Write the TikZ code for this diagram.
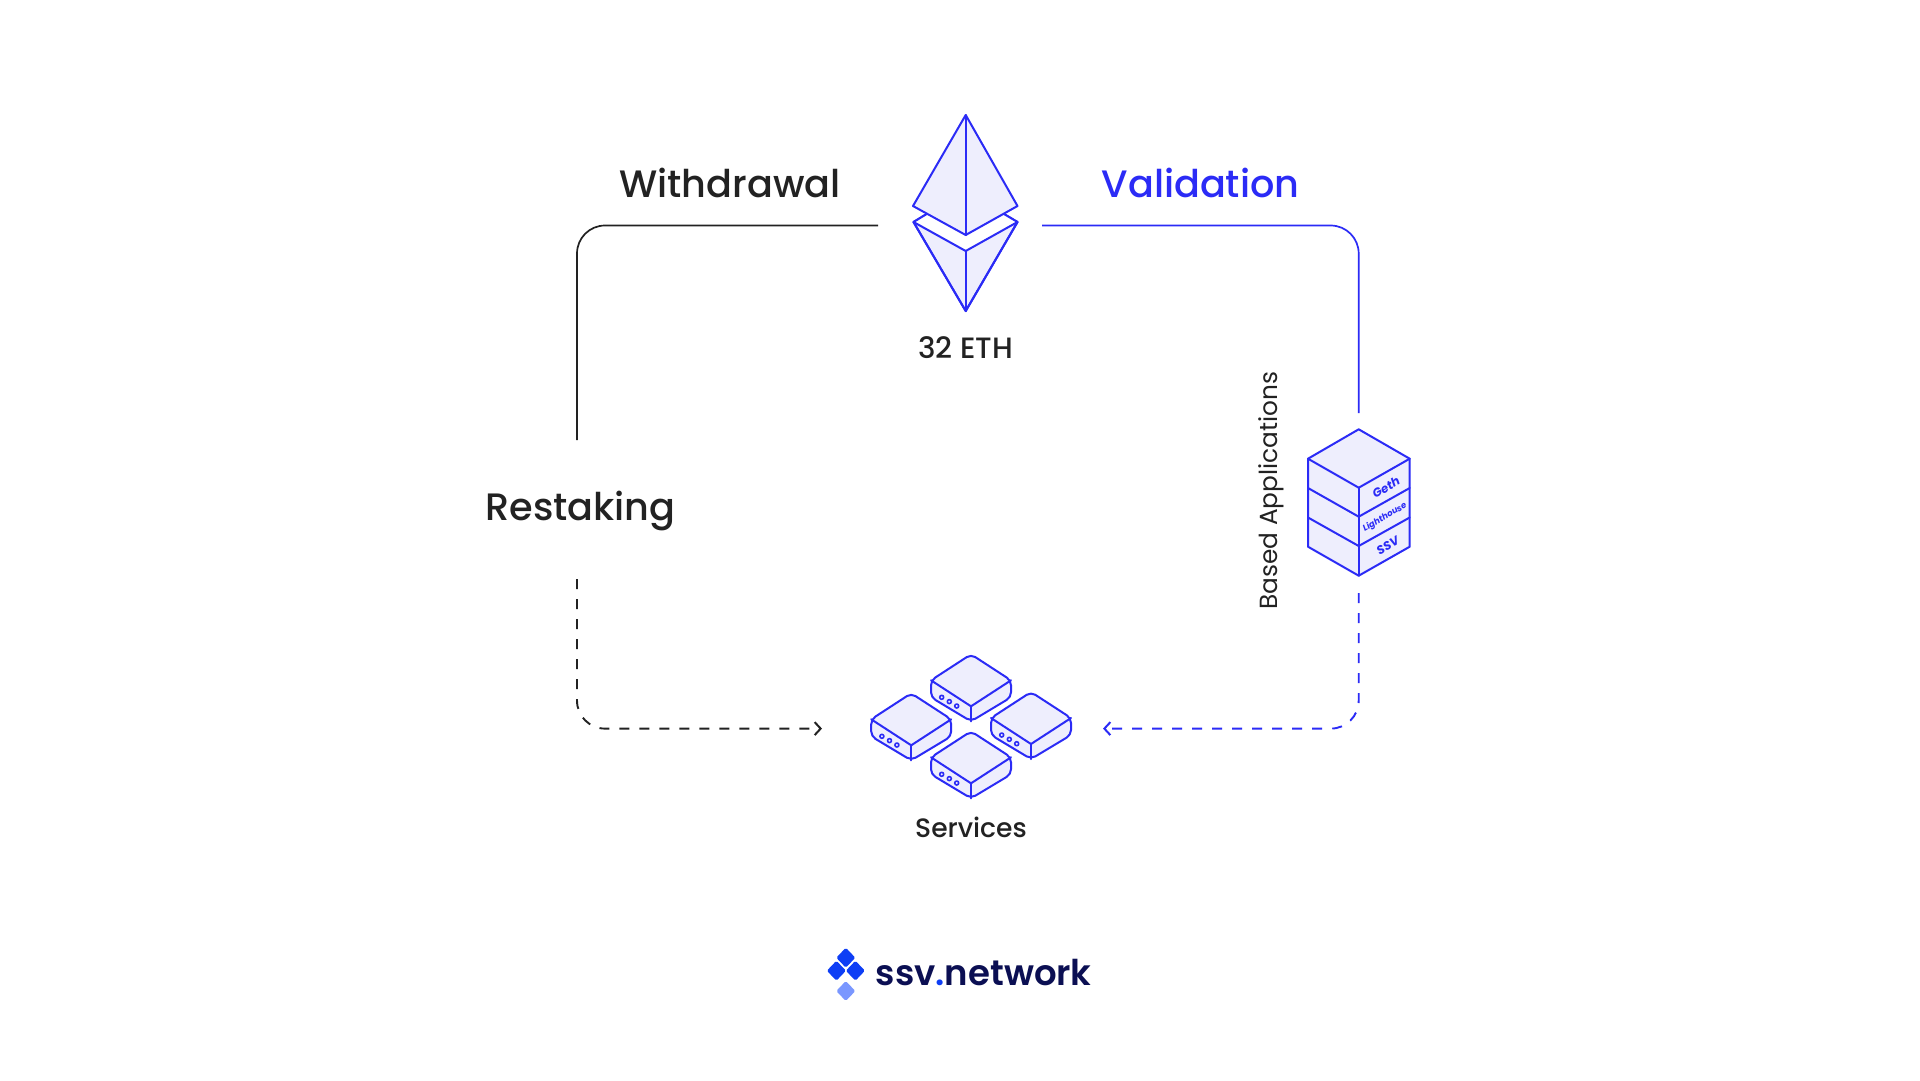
\documentclass[tikz,border=0pt]{standalone}
\usepackage{fontspec}
\setmainfont{Poppins}
\newfontfamily\popmed{Poppins Medium}
\newfontfamily\popsemi{Poppins SemiBold}
\usetikzlibrary{arrows.meta}
\definecolor{ib}{HTML}{2B2BF6}
\definecolor{ibf}{HTML}{EEEEFD}
\definecolor{ink}{HTML}{222222}
\definecolor{navy}{HTML}{0B0F53}
\definecolor{logoa}{HTML}{0E3EF5}
\definecolor{logob}{HTML}{7A97FF}
\tikzset{
  x=1pt,y=-1pt,
  iso/.style={draw=ib,line width=2pt,line join=round,line cap=round},
  isofill/.style={iso,fill=ibf},
  lbl/.style={inner sep=0pt,text=ink,font=\popmed\fontsize{38.2}{46}\selectfont},
  small/.style={inner sep=0pt,text=ink,font=\popmed\fontsize{29.4}{34}\selectfont},
  conn/.style={line width=1.7pt,rounded corners=28pt},
  dashconn/.style={conn,line width=1.9pt,dash pattern=on 10pt off 10pt},
  barb/.style={-{Straight Barb[length=6pt,width=13pt,line width=2pt]}},
  hw/.style={inner sep=0pt,text=ib,font=\fontspec{Poppins Bold Italic}\fontsize{9}{10}\selectfont,rotate=30},
  mini/.pic={
    \path[isofill,rounded corners=5pt] (0,-1) -- (40,25) -- (40,42) -- (0,66) -- (-40,42) -- (-40,25) -- cycle;
    \path[iso] (-40,25) -- (0,51) -- (40,25);
    \path[iso] (0,51) -- (0,66);
    \path[iso,line width=1.6pt] (-29.3,42) circle (2);
    \path[iso,line width=1.6pt] (-21.7,46.3) circle (2);
    \path[iso,line width=1.6pt] (-14.3,50.7) circle (2);
  },
}
\begin{document}
\begin{tikzpicture}
\useasboundingbox (0,0) rectangle (1920,1080);
\fill[white] (0,0) rectangle (1920,1080);
% Ethereum
\path[isofill] (913.5,222) -- (926.7,214) -- (1004,214) -- (1017.5,222) -- (965.7,311) -- cycle;
\fill[white] (913.5,222) -- (926.7,214) -- (1004,214) -- (1017.5,222) -- (965.7,251) -- cycle;
\path[iso] (926.7,214) -- (913.5,222) -- (965.7,251) -- (1017.5,222) -- (1004,214);
\path[iso] (913.5,222) -- (965.7,311) -- (1017.5,222);
\path[iso] (965.7,251) -- (965.7,311);
\path[isofill] (965.7,115) -- (1017.5,206) -- (965.7,235) -- (913,206) -- cycle;
\path[iso] (965.7,115) -- (965.7,235);
\node[small] (eth) at (965.5,348) {32 ETH};
% labels
\node[lbl] (wd) at (730,183) {Withdrawal};
\node[lbl,text=ib] (val) at (1200.5,182.5) {Validation};
\node[lbl] (res) at (580.5,510.5) {Restaking};
\node[inner sep=0pt,text=ink,rotate=90,font=\fontsize{24.8}{30}\selectfont] (ba) at (1271,490.5) {Based Applications};
\node[small,font=\popmed\fontsize{26.6}{30}\selectfont] (svc) at (971,827) {Services};
% connector ends
\coordinate (a1) at (878,225.5);
\coordinate (a2) at (577,440);
\coordinate (b1) at (1042,225.5);
\coordinate (b2) at (1358.7,413);
\coordinate (c1) at (577,579);
\coordinate (c2) at (822,728.6);
\coordinate (d1) at (1358.7,593);
\coordinate (d2) at (1103,728.6);
\draw[conn,draw=ink] (a1) -- (a1 -| a2) -- (a2);
\draw[conn,draw=ib] (b1) -- (b1 -| b2) -- (b2);
\draw[dashconn,draw=ink,barb] (c1) -- (c1 |- c2) -- (c2);
\draw[dashconn,draw=ib,barb] (d1) -- (d1 |- d2) -- (d2);
% stack
\path[isofill] (1358.7,429.3) -- (1409.7,458.7) -- (1409.7,546.7) -- (1358.7,575.7) -- (1308,546.7) -- (1308,458.7) -- cycle;
\path[iso] (1308,458.7) -- (1358.7,487.7) -- (1409.7,458.7);
\path[iso] (1358.7,487.7) -- (1358.7,575.7);
\path[iso] (1308,488) -- (1358.7,516.7) -- (1409.7,488);
\path[iso] (1308,517.5) -- (1358.7,546) -- (1409.7,517.5);
\node[hw,font=\fontspec{Poppins Bold Italic}\fontsize{12}{14}\selectfont] (geth) at (1386,487.5) {Geth};
\node[hw,font=\fontspec{Poppins Bold Italic}\fontsize{8.6}{10}\selectfont] (lh) at (1385,517.3) {Lighthouse};
\node[hw,font=\fontspec{Poppins Bold Italic}\fontsize{12}{14}\selectfont] (ssv) at (1387.7,545.7) {SSV};
% servers
\pic at (971,655.3) {mini};
\pic at (911.2,694.3) {mini};
\pic at (1031,693) {mini};
\pic at (971,732.3) {mini};
% logo
\foreach \cx/\cy/\c in {845.8/957.7/logoa,836.4/970.7/logoa,855.4/970.7/logoa,845.8/991/logob}
  \fill[\c,rounded corners=1.5pt] (\cx,\cy-10) -- (\cx+9.5,\cy) -- (\cx,\cy+10) -- (\cx-9.5,\cy) -- cycle;
\node[inner sep=0pt,anchor=base west,text=navy,font=\popsemi\fontsize{35.5}{44}\selectfont] (logo) at (875.5,985) {ssv\textcolor{logoa}{.}network};
\end{tikzpicture}
\end{document}
